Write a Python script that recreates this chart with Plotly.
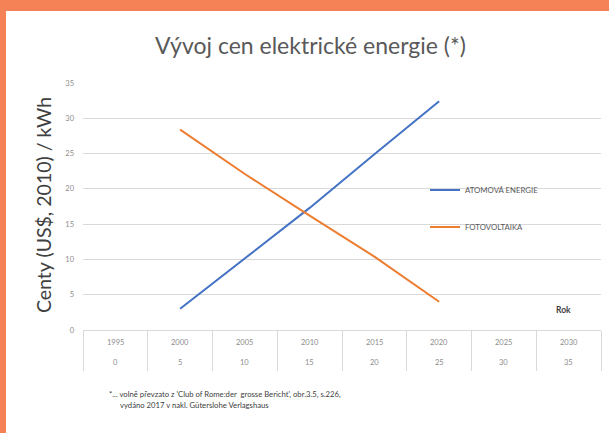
import plotly.graph_objects as go

# ---- data ----
years = ["1995", "2000", "2005", "2010", "2015", "2020", "2025", "2030"]
table_row2 = ["0", "5", "10", "15", "20", "25", "30", "35"]
atom_years = ["2000", "2005", "2010", "2015", "2020"]
atom_values = [3.0, 10.2, 17.3, 24.9, 32.4]
pv_years = ["2000", "2005", "2010", "2015", "2020"]
pv_values = [28.4, 22.1, 16.2, 10.4, 4.0]
y_ticks = [0, 5, 10, 15, 20, 25, 30, 35]

title_text = "Vývoj cen elektrické energie (*)"
y_title = "Centy (US$, 2010) / kWh"
x_title = "Rok"
name_atom = "ATOMOVÁ ENERGIE"
name_pv = "FOTOVOLTAIKA"
foot1 = "*... volně převzato z 'Club of Rome:der  grosse Bericht', obr.3.5, s.226,"
foot2 = "vydáno 2017 v nakl. Güterslohe Verlagshaus"

# ---- layout geometry ----
W, H = 609, 433
L, R, T, B = 83, 8, 83, 103
PW = W - L - R
PH = H - T - B
BOTTOM = T + PH


def px(x):
    return (x - L) / PW


def py(y):
    return (BOTTOM - y) / PH


FONT = "Lato, 'Open Sans', sans-serif"
BLUE = "#4472C4"
ORANGE = "#ED7D31"
GRID = "#d9d9d9"
TICK = "#8c8c8c"
BORDER = "#F58257"

fig = go.Figure()
fig.add_trace(go.Scatter(x=atom_years, y=atom_values, mode="lines", name=name_atom,
                         line=dict(color=BLUE, width=2), legend="legend", showlegend=True))
fig.add_trace(go.Scatter(x=pv_years, y=pv_values, mode="lines", name=name_pv,
                         line=dict(color=ORANGE, width=2), legend="legend2", showlegend=True))

annotations = [
    dict(text=title_text, x=px(310), y=py(45), xref="paper", yref="paper",
         showarrow=False, font=dict(size=23, color="#595959", family=FONT),
         xanchor="center", yanchor="middle"),
    dict(text=y_title, x=px(43), y=py(205), xref="paper", yref="paper",
         showarrow=False, textangle=-90, font=dict(size=19.5, color="#404040", family=FONT),
         xanchor="center", yanchor="middle"),
    dict(text="<b>" + x_title + "</b>", x=px(563), y=py(310), xref="paper", yref="paper",
         showarrow=False, font=dict(size=8.5, color="#404040", family=FONT),
         xanchor="center", yanchor="middle"),
    dict(text=foot1, x=px(107), y=py(394), xref="paper", yref="paper",
         showarrow=False, font=dict(size=7.7, color="#404040", family=FONT),
         xanchor="left", yanchor="middle"),
    dict(text=foot2, x=px(118), y=py(405), xref="paper", yref="paper",
         showarrow=False, font=dict(size=7.7, color="#404040", family=FONT),
         xanchor="left", yanchor="middle"),
]
for i, (yr, v) in enumerate(zip(years, table_row2)):
    annotations.append(dict(text=yr, x=i, y=py(342), xref="x", yref="paper",
                            showarrow=False, font=dict(size=7.5, color=TICK, family=FONT),
                            xanchor="center", yanchor="middle"))
    annotations.append(dict(text=v, x=i, y=py(362), xref="x", yref="paper",
                            showarrow=False, font=dict(size=7.5, color=TICK, family=FONT),
                            xanchor="center", yanchor="middle"))

shapes = [
    # orange slide border (top and left)
    dict(type="rect", xref="paper", yref="paper", x0=px(0), x1=px(W), y0=py(11), y1=py(0),
         fillcolor=BORDER, line=dict(width=0), layer="above"),
    dict(type="rect", xref="paper", yref="paper", x0=px(0), x1=px(6), y0=py(H), y1=py(0),
         fillcolor=BORDER, line=dict(width=0), layer="above"),
]

legend_font = dict(size=7.8, color="#595959", family=FONT)
fig.update_layout(
    width=W, height=H,
    margin=dict(l=L, r=R, t=T, b=B),
    paper_bgcolor="white", plot_bgcolor="white",
    font=dict(family=FONT),
    showlegend=True,
    annotations=annotations,
    shapes=shapes,
    legend=dict(x=px(425), y=py(190), xanchor="left", yanchor="middle", visible=True,
                bgcolor="rgba(0,0,0,0)", font=legend_font),
    legend2=dict(x=px(425), y=py(227), xanchor="left", yanchor="middle", visible=True,
                 bgcolor="rgba(0,0,0,0)", font=legend_font),
    xaxis=dict(type="category", categoryorder="array", categoryarray=years,
               range=[-0.5, len(years) - 0.5],
               showgrid=False, showline=True, linecolor=GRID, linewidth=1,
               ticks="outside", tickson="boundaries", ticklen=40, tickcolor=GRID,
               tickwidth=1, showticklabels=False, fixedrange=True),
    yaxis=dict(range=[0, 35], tickvals=y_ticks, showgrid=True, gridcolor=GRID, gridwidth=1,
               zeroline=False, showline=False, ticks="",
               tickfont=dict(size=7.5, color=TICK, family=FONT), ticklabelstandoff=8),
)

fig.write_html("out.html",
               config={"displayModeBar": False},
               post_script="document.body.style.margin='0';document.body.style.padding='0';"
                           "document.documentElement.style.overflow='hidden';")
